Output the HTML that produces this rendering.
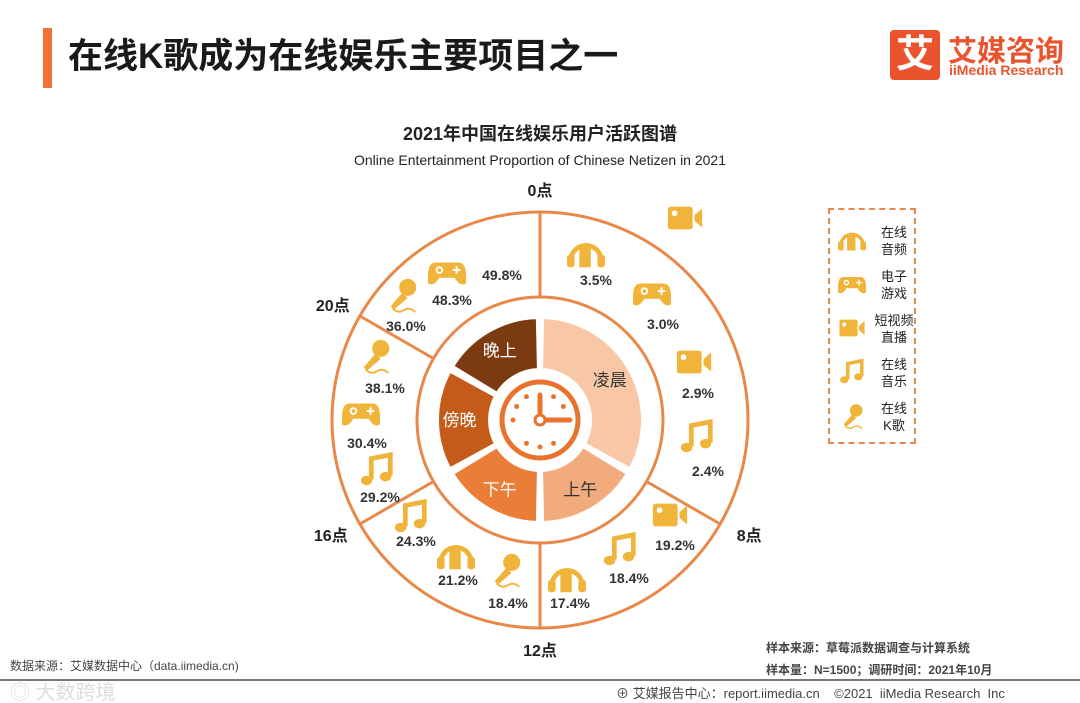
<!DOCTYPE html>
<html><head><meta charset="utf-8">
<style>
body{margin:0;background:#fff;}
#wrap{position:relative;width:1080px;height:703px;overflow:hidden;font-family:"Liberation Sans","Noto Sans CJK SC",sans-serif;color:#222;}
.abs{position:absolute;white-space:nowrap;}
</style></head>
<body>
<div id="wrap">
  <div class="abs" style="left:43px;top:28px;width:9px;height:60px;background:#f07335;"></div>
  <div class="abs" style="left:68px;top:28px;font-size:35px;font-weight:bold;color:#1a1a1a;">在线K歌成为在线娱乐主要项目之一</div>
  <div class="abs" style="left:890px;top:30px;width:50px;height:50px;background:#e9542f;border-radius:4px;color:#fff;font-size:38px;font-weight:bold;text-align:center;line-height:50px;">艾</div>
  <div class="abs" style="left:948px;top:28px;font-size:29px;font-weight:bold;color:#e9542f;">艾媒咨询</div>
  <div class="abs" style="left:949px;top:62px;font-size:14px;color:#e9542f;font-weight:bold;">iiMedia Research</div>
  <div class="abs" style="left:0;width:1080px;text-align:center;top:120px;font-size:18px;font-weight:bold;">2021年中国在线娱乐用户活跃图谱</div>
  <div class="abs" style="left:0;width:1080px;text-align:center;top:152px;font-size:14px;">Online Entertainment Proportion of Chinese Netizen in 2021</div>

  <svg class="abs" style="left:0;top:0" width="1080" height="703" id="chart"></svg>

  <div class="abs" style="left:828px;top:208px;width:88px;height:236px;border:2px dashed #e8894a;box-sizing:border-box;"></div>

  <div class="abs" style="left:10px;top:657px;font-size:12px;color:#444;">数据来源：艾媒数据中心（data.iimedia.cn)</div>
  <div class="abs" style="left:766px;top:639px;font-size:12px;color:#444;font-weight:bold;">样本来源：草莓派数据调查与计算系统</div>
  <div class="abs" style="left:766px;top:661px;font-size:12px;color:#444;font-weight:bold;">样本量：N=1500；调研时间：2021年10月</div>
  <div class="abs" style="left:0;top:679px;width:1080px;height:2px;background:#777;"></div>
  <div class="abs" style="left:10px;top:676px;font-size:20px;color:#ddd;">◎ 大数跨境</div>
  <div class="abs" style="left:616px;top:683px;font-size:13px;color:#444;">⊕ 艾媒报告中心：report.iimedia.cn &nbsp;&nbsp;&nbsp;©2021 &nbsp;iiMedia Research &nbsp;Inc</div>
</div>
<script>
const periods=['凌晨','上午','下午','傍晚','晚上'];
const periodStart=[0,8,12,16,20];
const periodEnd=[8,12,16,20,24];
const hourTicks=['0点','8点','12点','16点','20点'];
const tickHours=[0,8,12,16,20];
const itemTypes=['headphone','game','video','music','video','music','headphone','mic','headphone','music','music','game','mic','mic','game','none'];
const itemValues=['3.5%','3.0%','2.9%','2.4%','19.2%','18.4%','17.4%','18.4%','21.2%','24.3%','29.2%','30.4%','38.1%','36.0%','48.3%','49.8%'];
const legendTypes=['headphone','game','video','music','mic'];
const legendLabels=[['在线','音频'],['电子','游戏'],['短视频','直播'],['在线','音乐'],['在线','K歌']];

const NS='http://www.w3.org/2000/svg';
const svg=document.getElementById('chart');
const cx=540,cy=420,R=208,Rmid=123,Rin1=103,Rin0=50;
const periodColors=['#f8c8a6','#f2ab7c','#ea7d37','#c55b18','#7c3a10'];
const Y='#f0b43a';
function ang(h){return h/24*2*Math.PI;}
function pt(h,r){const a=ang(h);return [cx+r*Math.sin(a),cy-r*Math.cos(a)];}
function mk(tag,attrs,parent){const e=document.createElementNS(NS,tag);for(const k in attrs)e.setAttribute(k,attrs[k]);(parent||svg).appendChild(e);return e;}

let c=mk('circle',{cx,cy,r:R,fill:'none',stroke:'#e8894a','stroke-width':3});


c=mk('circle',{cx,cy,r:Rmid,fill:'none',stroke:'#e8894a','stroke-width':3});



tickHours.forEach((h,i)=>{
  const a=pt(h,Rmid),b=pt(h,R);
  const l=mk('line',{x1:a[0],y1:a[1],x2:b[0],y2:b[1],stroke:'#e8894a','stroke-width':3});
  
  
  const p=pt(h,R+22);
  const t=mk('text',{x:p[0]+(h==8?10:h==16?-10:h==20?-8:0),y:p[1]+6,'text-anchor':'middle','font-size':16,'font-weight':'bold',fill:'#222'});
  t.textContent=hourTicks[i];
  
  
});

periods.forEach((name,i)=>{
  const gapDeg=0.08;
  const h0=periodStart[i]+gapDeg,h1=periodEnd[i]-gapDeg;
  const a=pt(h0,Rin1),b=pt(h1,Rin1),cc=pt(h1,Rin0),d=pt(h0,Rin0);
  const large=(h1-h0)>12?1:0;
  const path=`M${a[0]},${a[1]} A${Rin1},${Rin1} 0 ${large} 1 ${b[0]},${b[1]} L${cc[0]},${cc[1]} A${Rin0},${Rin0} 0 ${large} 0 ${d[0]},${d[1]}Z`;
  const p=mk('path',{d:path,fill:periodColors[i],stroke:'#fff','stroke-width':4});
  
  
  const m=pt((periodStart[i]+periodEnd[i])/2,(Rin0+Rin1)/2+4);
  const t=mk('text',{x:m[0],y:m[1]+6,'text-anchor':'middle','font-size':17,fill:i<2?'#333':'#fff'});
  t.textContent=name;
  
  
});

const g=mk('g',{});


mk('circle',{cx,cy,r:38,fill:'none',stroke:'#e8742f','stroke-width':5},g);
[1,2,5,6,7,9,10,11].forEach(k=>{const a=k/12*2*Math.PI;mk('circle',{cx:cx+27*Math.sin(a),cy:cy-27*Math.cos(a),r:2.5,fill:'#e8742f'},g);});
mk('line',{x1:cx,y1:cy,x2:cx,y2:cy-25,stroke:'#e8742f','stroke-width':5,'stroke-linecap':'round'},g);
mk('line',{x1:cx,y1:cy,x2:cx+30,y2:cy,stroke:'#e8742f','stroke-width':5,'stroke-linecap':'round'},g);
mk('circle',{cx,cy,r:5,fill:'#fff',stroke:'#e8742f','stroke-width':3},g);

function icon(type,x,y,s,parent){
  const gg=mk('g',{transform:`translate(${x},${y}) scale(${s})`},parent);
  if(type==='video'){mk('rect',{x:-18,y:-12,width:26,height:24,rx:3,fill:Y},gg);mk('path',{d:'M10,-3 L18,-10 L18,10 L10,3Z',fill:Y},gg);mk('circle',{cx:-11,cy:-5,r:3,fill:'#fff'},gg);}
  else if(type==='headphone'){mk('path',{d:'M-16,8 A16,16 0 0 1 16,8',fill:'none',stroke:Y,'stroke-width':5},gg);mk('rect',{x:-20,y:2,width:8,height:13,rx:3,fill:Y},gg);mk('rect',{x:12,y:2,width:8,height:13,rx:3,fill:Y},gg);mk('rect',{x:-7,y:-6,width:12,height:21,fill:Y},gg);}
  else if(type==='game'){mk('path',{d:'M-12,-10 L12,-10 Q20,-10 20,4 L20,12 Q14,16 8,6 L-8,6 Q-14,16 -20,12 L-20,4 Q-20,-10 -12,-10Z',fill:Y},gg);mk('circle',{cx:-8,cy:-2,r:3,fill:'none',stroke:'#fff','stroke-width':2},gg);mk('path',{d:'M6,-2 h8 M10,-6 v8',stroke:'#fff','stroke-width':2},gg);}
  else if(type==='music'){mk('path',{d:'M-6,10 L-6,-12 L14,-16 L14,6',fill:'none',stroke:Y,'stroke-width':5},gg);mk('ellipse',{cx:-11,cy:11,rx:6,ry:5,fill:Y},gg);mk('ellipse',{cx:9,cy:7,rx:6,ry:5,fill:Y},gg);}
  else if(type==='mic'){mk('circle',{cx:6,cy:-8,r:9,fill:Y},gg);mk('path',{d:'M0,-2 L-12,12 L-8,15 L6,3Z',fill:Y},gg);mk('path',{d:'M-10,14 Q-4,20 2,16 T14,18',fill:'none',stroke:Y,'stroke-width':2},gg);}
  return gg;
}
const iconPos=[[586,253],[652,293],[694,362],[697,437],[670,515],[620,550],[567,578],[506,570],[456,555],[411,517],[377,470],[361,413],[375,356],[402,295],[447,272],[0,0]];
const labelPos=[[596,285],[663,329],[698,398],[708,476],[675,550],[629,583],[570,608],[508,608],[458,585],[416,546],[380,502],[367,448],[385,393],[406,331],[452,305],[502,280]];
itemTypes.forEach((tp,i)=>{
  if(tp!=='none'){const ic=icon(tp,iconPos[i][0],iconPos[i][1],0.95);
    
    }
  const t=mk('text',{x:labelPos[i][0],y:labelPos[i][1],'text-anchor':'middle','font-size':14,'font-weight':'bold',fill:'#333'});
  t.textContent=itemValues[i];
  
  
});
const lone=icon('video',685,218,0.95);



legendTypes.forEach((tp,i)=>{
  const y=240+i*44;
  const ic=icon(tp,852,y,0.7);
  
  
  legendLabels[i].forEach((s,j)=>{
    const t=mk('text',{x:894,y:y-3+j*17,'text-anchor':'middle','font-size':13,fill:'#222'});
    t.textContent=s;
    
    
  });
});
</script>
</body></html>
